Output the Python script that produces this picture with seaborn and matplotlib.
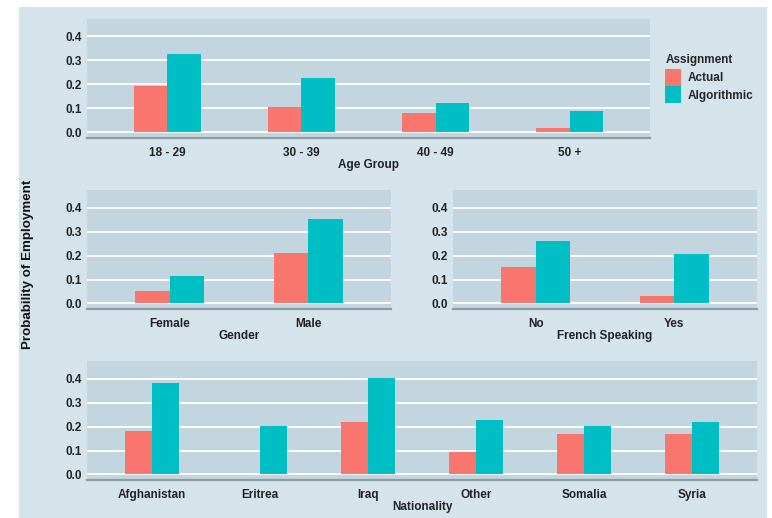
import pandas as pd
import numpy as np
import matplotlib
matplotlib.use("Agg")
import matplotlib.pyplot as plt
import seaborn as sns
from matplotlib.patches import Rectangle

# data
assignments = ["Actual", "Algorithmic"]
age_groups = ["18 - 29", "30 - 39", "40 - 49", "50 +"]
age_actual = [0.195, 0.107, 0.082, 0.018]
age_algo = [0.326, 0.225, 0.124, 0.091]

genders = ["Female", "Male"]
gender_actual = [0.053, 0.212]
gender_algo = [0.113, 0.354]

french = ["No", "Yes"]
french_actual = [0.151, 0.030]
french_algo = [0.262, 0.209]

nationalities = ["Afghanistan", "Eritrea", "Iraq", "Other", "Somalia", "Syria"]
nat_actual = [0.183, 0.0, 0.218, 0.096, 0.169, 0.169]
nat_algo = [0.381, 0.201, 0.405, 0.226, 0.201, 0.219]

colors = {"Actual": "#F8766D", "Algorithmic": "#00BFC4"}
yticks = [0.0, 0.1, 0.2, 0.3, 0.4]


def make_df(cats, actual, algo, name):
    return pd.DataFrame({
        name: cats * 2,
        "Probability": actual + algo,
        "Assignment": ["Actual"] * len(cats) + ["Algorithmic"] * len(cats),
    })


sns.set_style("white")
plt.rcParams["font.family"] = ["Liberation Sans", "DejaVu Sans"]
plt.rcParams["font.weight"] = "bold"

W, H = 772, 518
fig = plt.figure(figsize=(W / 100, H / 100), dpi=100)
fig.patch.set_facecolor("white")
fig.add_artist(Rectangle((19 / W, 0), (767 - 19) / W, 1 - 7 / H,
                         transform=fig.transFigure, facecolor="#d5e4eb",
                         edgecolor="none", zorder=-10))


def px_rect(x0, y0, x1, y1):
    return [x0 / W, 1 - y1 / H, (x1 - x0) / W, (y1 - y0) / H]


def panel(rect, df, name, cats):
    ax = fig.add_axes(px_rect(*rect))
    sns.barplot(data=df, x=name, y="Probability", hue="Assignment",
                order=cats, hue_order=assignments, palette=colors,
                width=0.5, saturation=1, linewidth=0, ax=ax)
    ax.set_facecolor("#c3d6df")
    ax.set_xlim(-0.6, len(cats) - 0.4)
    ax.set_ylim(-0.021, 0.475)
    ax.set_yticks(yticks)
    ax.set_yticklabels([f"{t:.1f}" for t in yticks])
    ax.yaxis.grid(True, color="white", linewidth=1.3)
    ax.set_axisbelow(True)
    for s in ["top", "left", "right"]:
        ax.spines[s].set_visible(False)
    ax.spines["bottom"].set_color("#8f9ba2")
    ax.spines["bottom"].set_linewidth(1.6)
    ax.tick_params(axis="y", length=0, pad=3.5, labelsize=8.5, labelcolor="#222222")
    ax.tick_params(axis="x", direction="in", length=3.5, width=1, color="#444444",
                   pad=6.5, labelsize=8.5, labelcolor="#222222")
    ax.set_xlabel(name, fontsize=8.5, fontweight="bold", labelpad=0, color="#222222")
    ax.set_ylabel("")
    ax.get_legend().remove()
    return ax


ax1 = panel((87, 18.5, 650, 137.5), make_df(age_groups, age_actual, age_algo, "Age Group"),
            "Age Group", age_groups)
ax2 = panel((87, 190, 391, 308.5), make_df(genders, gender_actual, gender_algo, "Gender"),
            "Gender", genders)
ax3 = panel((453, 190, 757, 308.5), make_df(french, french_actual, french_algo, "French Speaking"),
            "French Speaking", french)
ax4 = panel((87, 361, 757, 479.5), make_df(nationalities, nat_actual, nat_algo, "Nationality"),
            "Nationality", nationalities)

handles = [plt.Rectangle((0, 0), 1, 1, facecolor=colors[a], edgecolor="none") for a in assignments]
leg = fig.legend(handles, assignments, title="Assignment", loc="upper left",
                 bbox_to_anchor=(663 / W, 1 - 52 / H), frameon=False,
                 fontsize=8.5, title_fontproperties={"weight": "bold", "size": 8.5},
                 handlelength=1.35, handleheight=1.8, labelspacing=0.05,
                 handletextpad=0.55, alignment="left", borderaxespad=0,
                 borderpad=0.2)
leg._legend_box.sep = 2

fig.text(28 / W, 1 - 264 / H, "Probability of Employment", rotation=90,
         ha="center", va="center", fontsize=9.6, fontweight="bold", color="#111111")

fig.savefig("out.png", dpi=100)
